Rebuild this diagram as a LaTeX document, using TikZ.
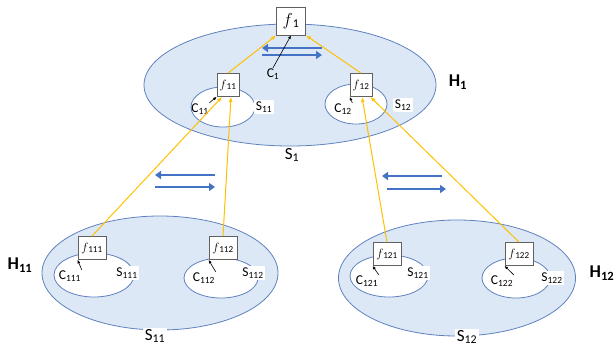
\documentclass[tikz,border=0pt]{standalone}
\usepackage{fontspec}
\setmainfont{Carlito}
\usetikzlibrary{shapes.geometric, arrows.meta}

\definecolor{zonefill}{RGB}{220,232,246}
\definecolor{zoneline}{RGB}{95,130,190}
\definecolor{flowblue}{RGB}{68,114,196}
\definecolor{linkgold}{RGB}{255,192,0}

\begin{document}
\begin{tikzpicture}[
    x=1pt, y=-1pt,
    zone/.style={
        ellipse,
        draw=zoneline,
        fill=zonefill,
        line width=0.8pt,
        inner sep=0pt
    },
    subzone/.style={
        ellipse,
        draw=zoneline,
        fill=white,
        line width=0.8pt,
        inner sep=0pt
    },
    fbox/.style={
        draw=gray!75!black,
        fill=white,
        line width=0.8pt,
        inner sep=1pt,
        minimum width=22pt,
        minimum height=23pt,
        font=\fontsize{13}{14}\selectfont
    },
    clabel/.style={inner sep=0.5pt, font=\fontsize{13.5}{14}\selectfont},
    slabel/.style={fill=white, inner sep=1.5pt, font=\fontsize{13.5}{14}\selectfont},
    biglabel/.style={fill=white, inner sep=1.5pt, font=\fontsize{17}{18}\selectfont},
    hlabel/.style={font=\fontsize{18}{19}\selectfont\bfseries},
    link/.style={draw=linkgold, line width=1pt, -{Latex[length=5pt,width=4pt]}},
    pointer/.style={draw=black, line width=0.6pt, -{Latex[length=3.5pt,width=3pt]}},
    flow/.style={draw=flowblue, line width=2.8pt, -{Triangle[length=6pt,width=8pt]}}
]
\useasboundingbox (0,0) rectangle (615,346);

% level 1
\node[zone, minimum width=292pt, minimum height=122pt] (h1) at (290,85) {};
\node[subzone, minimum width=64pt, minimum height=40pt] (s11in) at (223,107) {};
\node[subzone, minimum width=62pt, minimum height=40pt] (s12in) at (356,104) {};

% level 2
\node[zone, minimum width=236pt, minimum height=114pt] (h11) at (160,273) {};
\node[subzone, minimum width=80pt, minimum height=44pt] (s111in) at (94,275) {};
\node[subzone, minimum width=74pt, minimum height=40pt] (s112in) at (221,278) {};

\node[zone, minimum width=237pt, minimum height=116pt] (h12) at (457,278) {};
\node[subzone, minimum width=78pt, minimum height=42pt] (s121in) at (389,276) {};
\node[subzone, minimum width=68pt, minimum height=40pt] (s122in) at (516,278) {};

% zone labels
\node[biglabel] (s1) at (292,155) {S\textsubscript{1}};
\node[biglabel] (s11) at (155,336) {S\textsubscript{11}};
\node[biglabel] (s12) at (467,337) {S\textsubscript{12}};
\node[hlabel] (lh1) at (458,82) {H\textsubscript{1}};
\node[hlabel] (lh11) at (20,265) {H\textsubscript{11}};
\node[hlabel] (lh12) at (602,273) {H\textsubscript{12}};

\node[slabel] (ls11) at (264,107) {S\textsubscript{11}};
\node[slabel] (ls12) at (403,105) {S\textsubscript{12}};
\node[slabel] (ls111) at (127,273) {S\textsubscript{111}};
\node[slabel] (ls112) at (253,273) {S\textsubscript{112}};
\node[slabel] (ls121) at (418,273) {S\textsubscript{121}};
\node[slabel] (ls122) at (552,278) {S\textsubscript{122}};

% flows
\coordinate (a1) at (262,48);  \coordinate (b1) at (322,48);
\coordinate (a2) at (262,55);  \coordinate (b2) at (322,55);
\coordinate (a3) at (155,175); \coordinate (b3) at (215,175);
\coordinate (a4) at (155,187); \coordinate (b4) at (215,187);
\coordinate (a5) at (382,176); \coordinate (b5) at (442,176);
\coordinate (a6) at (387,189); \coordinate (b6) at (446,189);
\draw[flow] (b1) -- (a1);
\draw[flow] (a2) -- (b2);
\draw[flow] (b3) -- (a3);
\draw[flow] (a4) -- (b4);
\draw[flow] (b5) -- (a5);
\draw[flow] (a6) -- (b6);

% function boxes
\node[fbox, minimum width=29pt, minimum height=28pt, font=\fontsize{17}{18}\selectfont] (f1) at (291,21) {$f$\textsubscript{1}};
\node[fbox] (f11) at (228,85) {$f$\textsubscript{11}};
\node[fbox] (f12) at (361,85) {$f$\textsubscript{12}};
\node[fbox, minimum width=28pt] (f111) at (92,248) {$f$\textsubscript{111}};
\node[fbox, minimum width=28pt] (f112) at (223,248) {$f$\textsubscript{112}};
\node[fbox, minimum width=28pt] (f121) at (387,254) {$f$\textsubscript{121}};
\node[fbox, minimum width=28pt] (f122) at (519,254) {$f$\textsubscript{122}};

% controllers
\node[clabel] (c1) at (273,74) {C\textsubscript{1}};
\node[clabel] (c11) at (200,109) {C\textsubscript{11}};
\node[clabel] (c12) at (343,109) {C\textsubscript{12}};
\node[clabel] (c111) at (70,276) {C\textsubscript{111}};
\node[clabel] (c112) at (204,278) {C\textsubscript{112}};
\node[clabel] (c121) at (367,281) {C\textsubscript{121}};
\node[clabel] (c122) at (502,281) {C\textsubscript{122}};

\draw[pointer] (c1.north) -- (f1.south);
\draw[pointer] (c11.north east) -- (f11.south west);
\draw[pointer] (c12.north east) -- (f12.south west);
\draw[pointer] (c111.north east) -- (f111.south west);
\draw[pointer] (c112.north east) -- (f112.south west);
\draw[pointer] (c121.north east) -- (f121.south west);
\draw[pointer] (c122.north east) -- (f122.south west);

% links to parents
\draw[link] (f11.north) -- (f1.south west);
\draw[link] (f12.north) -- (f1.south east);
\draw[link] (f111.north) -- ([xshift=-6pt]f11.south);
\draw[link] (f112.north) -- ([xshift=3pt]f11.south);
\draw[link] (f121.north) -- ([xshift=1pt]f12.south);
\draw[link] (f122.north) -- ([xshift=-2pt]f12.south east);

\end{tikzpicture}
\end{document}
